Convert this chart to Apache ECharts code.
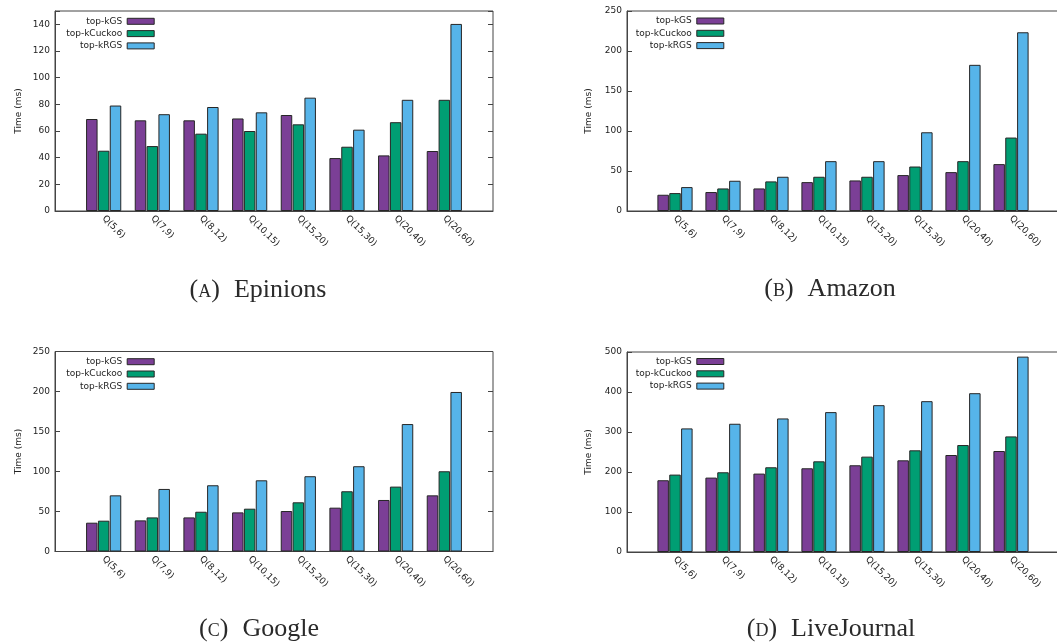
<!DOCTYPE html>
<html><head><meta charset="utf-8">
<script src="https://cdn.jsdelivr.net/npm/echarts@6/dist/echarts.min.js"></script>
<style>html,body{margin:0;padding:0;background:#fff}#c{width:1057px;height:644px}</style>
</head><body><div id="c"></div>
<script>
// ---- data ----
const categories = ['Q(5,6)','Q(7,9)','Q(8,12)','Q(10,15)','Q(15,20)','Q(15,30)','Q(20,40)','Q(20,60)'];
const seriesNames = ['top-kGS','top-kCuckoo','top-kRGS'];

const epinionsGS     = [69, 68, 68, 69.4, 72, 39.7, 41.7, 45];
const epinionsCuckoo = [45.2, 48.7, 58, 60, 65, 48.2, 66.6, 83.4];
const epinionsRGS    = [79.1, 72.6, 78, 74, 85, 61, 83.4, 140.3];

const amazonGS     = [20.3, 23.7, 28.2, 36.1, 38.2, 44.9, 48.6, 58.6];
const amazonCuckoo = [22.4, 28.2, 37, 42.8, 42.8, 55.6, 62.3, 91.8];
const amazonRGS    = [29.9, 37.8, 42.8, 62.3, 62.3, 98.4, 182.7, 223.4];

const googleGS     = [36, 38.9, 42.6, 48.9, 50.6, 54.8, 64.4, 70.2];
const googleCuckoo = [38.5, 42.6, 49.7, 53.5, 61.5, 75.3, 81.1, 100.3];
const googleRGS    = [70.2, 78.2, 82.8, 89, 94.1, 106.6, 159.3, 199.4];

const liveGS     = [179.4, 186, 196, 209.3, 216.8, 229.2, 242.5, 252.5];
const liveCuckoo = [193.5, 199.3, 211.8, 226.7, 238.4, 254.2, 267.4, 289];
const liveRGS    = [309, 320.6, 333.9, 349.7, 367.1, 377.1, 397, 488.4];

const yTicksEpinions = {min: 0, max: 150, interval: 20};
const yTicksAmazon   = {min: 0, max: 250, interval: 50};
const yTicksGoogle   = {min: 0, max: 250, interval: 50};
const yTicksLive     = {min: 0, max: 500, interval: 100};

const captionLetters = ['A','B','C','D'];
const captionNames = ['Epinions','Amazon','Google','LiveJournal'];

// ---- layout / style ----
const colors = ['#7b3f96', '#009e73', '#56b4e9'];
const panels = [
  {data:[epinionsGS, epinionsCuckoo, epinionsRGS], y:yTicksEpinions, grid:{left:55, top:11, width:438, height:200}, nameGap:32, legRight:902.3, legTop:22.3, cap:{x:258, y:289}, hideMax:true, rightTicks:true},
  {data:[amazonGS, amazonCuckoo, amazonRGS], y:yTicksAmazon, grid:{left:627, top:11, width:432, height:200}, nameGap:34, legRight:332.7, legTop:22, cap:{x:830, y:288}, rightTicks:false},
  {data:[googleGS, googleCuckoo, googleRGS], y:yTicksGoogle, grid:{left:55, top:351.5, width:438, height:200}, nameGap:32, legRight:902.3, legTop:362.7, cap:{x:259, y:628}, rightTicks:true},
  {data:[liveGS, liveCuckoo, liveRGS], y:yTicksLive, grid:{left:627, top:352, width:432, height:200}, nameGap:34, legRight:332.7, legTop:362.5, cap:{x:831, y:628}, rightTicks:false}
];

const axisColor = '#444';
const textColor = '#222';
const font = 'DejaVu Sans';
const paddedCats = [''].concat(categories, ['']);

const option = {
  backgroundColor: '#fff',
  animation: false,
  grid: [], xAxis: [], yAxis: [], series: [], legend: [], title: []
};

panels.forEach((p, i) => {
  option.grid.push(Object.assign({show: true, borderColor: axisColor, borderWidth: 1, backgroundColor: 'transparent', containLabel: false, outerBoundsMode: 'none'}, p.grid));
  option.xAxis.push({
    type: 'category', gridIndex: i, data: paddedCats, boundaryGap: false,
    axisLine: {show: true, lineStyle: {color: axisColor, width: 1}},
    axisTick: {show: false},
    splitLine: {show: false},
    axisLabel: {interval: 0, rotate: -45, margin: 6, fontSize: 9, fontFamily: font, color: textColor}
  });
  const maxV = p.y.max;
  option.yAxis.push({
    type: 'value', gridIndex: i, min: p.y.min, max: p.y.max, interval: p.y.interval,
    name: 'Time (ms)', nameLocation: 'middle', nameGap: p.nameGap, nameRotate: 90,
    nameTextStyle: {fontSize: 9, fontFamily: font, color: textColor},
    axisLine: {show: true, lineStyle: {color: axisColor, width: 1}},
    axisTick: {show: true, inside: true, length: 5, lineStyle: {color: axisColor}},
    splitLine: {show: false},
    axisLabel: {margin: 5, fontSize: 9, fontFamily: font, color: textColor,
      formatter: v => (p.hideMax && v === maxV) ? '' : String(v)}
  });
  option.yAxis.push({
    type: 'value', gridIndex: i, position: 'right', min: p.y.min, max: p.y.max, interval: p.y.interval,
    axisLine: {show: false},
    axisTick: {show: p.rightTicks, inside: true, length: 5, lineStyle: {color: axisColor}},
    splitLine: {show: false},
    axisLabel: {show: false}
  });
  p.data.forEach((vals, k) => {
    option.series.push({
      type: 'bar', name: seriesNames[k], xAxisIndex: i, yAxisIndex: i * 2,
      data: ['-'].concat(vals, ['-']),
      barWidth: 11.5, barGap: '3%',
      itemStyle: {color: colors[k], borderColor: '#262626', borderWidth: 1},
      emphasis: {disabled: true}
    });
    option.legend.push({
      data: [seriesNames[k]], orient: 'vertical', align: 'right',
      right: p.legRight, top: p.legTop + k * 12.3 - 5.5, padding: 0,
      itemWidth: 27, itemHeight: 6, icon: 'rect', selectedMode: false,
      itemStyle: {borderColor: '#262626', borderWidth: 1},
      textStyle: {fontSize: 9, fontFamily: font, color: textColor}
    });
  });
  option.title.push({
    text: '{p|(}{s|' + captionLetters[i] + '}{p|)}{g| }{p|' + captionNames[i] + '}',
    left: p.cap.x, top: p.cap.y, textAlign: 'center', textVerticalAlign: 'middle', padding: 0,
    textStyle: {
      fontWeight: 'normal',
      rich: {
        p: {fontSize: 26, fontFamily: 'Liberation Serif', fontWeight: 'normal', color: '#2a2a2a', verticalAlign: 'bottom', lineHeight: 28},
        s: {fontSize: 18, fontFamily: 'Liberation Serif', fontWeight: 'normal', color: '#2a2a2a', verticalAlign: 'bottom', lineHeight: 28, padding: [0, 0, 2, 0]},
        g: {width: 14, fontSize: 26, lineHeight: 28}
      }
    }
  });
});

const chart = echarts.init(document.getElementById('c'), null, {renderer: 'canvas'});
chart.setOption(option);
</script>
</body></html>
